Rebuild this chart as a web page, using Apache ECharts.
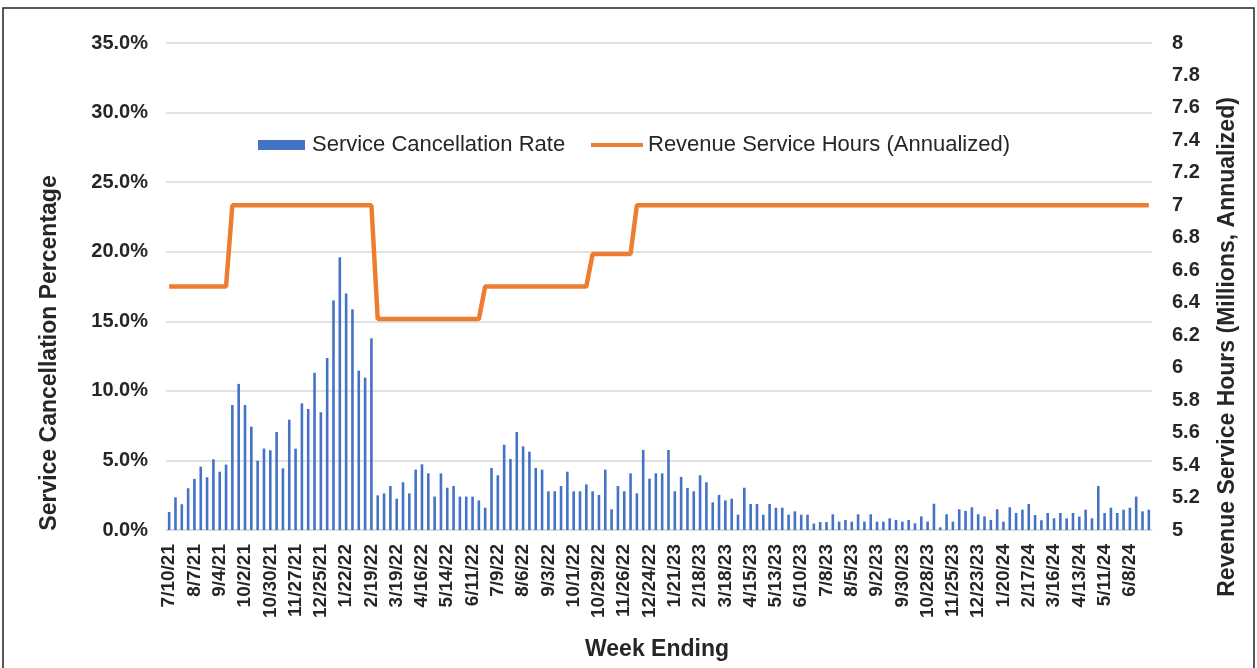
<!DOCTYPE html>
<html>
<head>
<meta charset="utf-8">
<script src="https://cdn.jsdelivr.net/npm/echarts@6/dist/echarts.min.js"></script>
<style>
  html, body { margin: 0; padding: 0; background: #fff; }
  #chart { width: 1257px; height: 668px; }
</style>
</head>
<body>
<div id="chart"></div>
<script>
// week ending dates
const weeks = [
  '7/10/21', '7/17/21', '7/24/21', '7/31/21', '8/7/21', '8/14/21', '8/21/21', '8/28/21', '9/4/21', '9/11/21',
  '9/18/21', '9/25/21', '10/2/21', '10/9/21', '10/16/21', '10/23/21', '10/30/21', '11/6/21', '11/13/21', '11/20/21',
  '11/27/21', '12/4/21', '12/11/21', '12/18/21', '12/25/21',
  '1/1/22', '1/8/22', '1/15/22', '1/22/22', '1/29/22', '2/5/22', '2/12/22', '2/19/22', '2/26/22', '3/5/22',
  '3/12/22', '3/19/22', '3/26/22', '4/2/22', '4/9/22', '4/16/22', '4/23/22', '4/30/22', '5/7/22', '5/14/22',
  '5/21/22', '5/28/22', '6/4/22', '6/11/22', '6/18/22', '6/25/22', '7/2/22', '7/9/22', '7/16/22', '7/23/22',
  '7/30/22', '8/6/22', '8/13/22', '8/20/22', '8/27/22', '9/3/22', '9/10/22', '9/17/22', '9/24/22', '10/1/22',
  '10/8/22', '10/15/22', '10/22/22', '10/29/22', '11/5/22', '11/12/22', '11/19/22', '11/26/22', '12/3/22', '12/10/22',
  '12/17/22', '12/24/22', '12/31/22',
  '1/7/23', '1/14/23', '1/21/23', '1/28/23', '2/4/23', '2/11/23', '2/18/23', '2/25/23', '3/4/23', '3/11/23',
  '3/18/23', '3/25/23', '4/1/23', '4/8/23', '4/15/23', '4/22/23', '4/29/23', '5/6/23', '5/13/23', '5/20/23',
  '5/27/23', '6/3/23', '6/10/23', '6/17/23', '6/24/23', '7/1/23', '7/8/23', '7/15/23', '7/22/23', '7/29/23',
  '8/5/23', '8/12/23', '8/19/23', '8/26/23', '9/2/23', '9/9/23', '9/16/23', '9/23/23', '9/30/23', '10/7/23',
  '10/14/23', '10/21/23', '10/28/23', '11/4/23', '11/11/23', '11/18/23', '11/25/23', '12/2/23', '12/9/23', '12/16/23',
  '12/23/23', '12/30/23',
  '1/6/24', '1/13/24', '1/20/24', '1/27/24', '2/3/24', '2/10/24', '2/17/24', '2/24/24', '3/2/24', '3/9/24',
  '3/16/24', '3/23/24', '3/30/24', '4/6/24', '4/13/24', '4/20/24', '4/27/24', '5/4/24', '5/11/24', '5/18/24',
  '5/25/24', '6/1/24', '6/8/24', '6/15/24', '6/22/24', '6/29/24'
];

// service cancellation rate (%)
const cancelRate = [
  1.3, 2.35, 1.85, 3.0, 3.67, 4.55, 3.79, 5.08, 4.19, 4.7,
  8.98, 10.5, 8.98, 7.43, 4.98, 5.85, 5.73, 7.04, 4.43, 7.93,
  5.85, 9.1, 8.7, 11.3, 8.46, 12.36, 16.5, 19.6, 17.0, 15.86,
  11.45, 10.95, 13.78, 2.49, 2.63, 3.16, 2.25, 3.43, 2.63, 4.34,
  4.72, 4.07, 2.4, 4.07, 3.04, 3.16, 2.4, 2.4, 2.4, 2.13,
  1.6, 4.46, 3.93, 6.13, 5.1, 7.04, 6.01, 5.63, 4.46, 4.34,
  2.78, 2.78, 3.16, 4.19, 2.78, 2.78, 3.28, 2.78, 2.52, 4.34,
  1.49, 3.16, 2.78, 4.07, 2.63, 5.75, 3.69, 4.07, 4.07, 5.75,
  2.78, 3.81, 3.02, 2.78, 3.93, 3.43, 1.99, 2.52, 2.13, 2.25,
  1.1, 3.04, 1.87, 1.87, 1.1, 1.87, 1.6, 1.6, 1.1, 1.34,
  1.1, 1.1, 0.46, 0.57, 0.57, 1.13, 0.6, 0.72, 0.6, 1.13,
  0.6, 1.13, 0.6, 0.6, 0.84, 0.72, 0.6, 0.72, 0.48, 0.98,
  0.6, 1.89, 0.19, 1.13, 0.6, 1.49, 1.37, 1.63, 1.13, 0.98,
  0.72, 1.49, 0.6, 1.63, 1.22, 1.46, 1.87, 1.08, 0.7, 1.22,
  0.84, 1.22, 0.84, 1.22, 0.96, 1.46, 0.84, 3.16, 1.22, 1.6,
  1.22, 1.46, 1.6, 2.4, 1.34, 1.46
];

// revenue service hours, millions annualized
const serviceHours = [
  6.5, 6.5, 6.5, 6.5, 6.5, 6.5, 6.5, 6.5, 6.5, 6.5,
  7, 7, 7, 7, 7, 7, 7, 7, 7, 7,
  7, 7, 7, 7, 7, 7, 7, 7, 7, 7,
  7, 7, 7, 6.3, 6.3, 6.3, 6.3, 6.3, 6.3, 6.3,
  6.3, 6.3, 6.3, 6.3, 6.3, 6.3, 6.3, 6.3, 6.3, 6.3,
  6.5, 6.5, 6.5, 6.5, 6.5, 6.5, 6.5, 6.5, 6.5, 6.5,
  6.5, 6.5, 6.5, 6.5, 6.5, 6.5, 6.5, 6.7, 6.7, 6.7,
  6.7, 6.7, 6.7, 6.7, 7, 7, 7, 7, 7, 7,
  7, 7, 7, 7, 7, 7, 7, 7, 7, 7,
  7, 7, 7, 7, 7, 7, 7, 7, 7, 7,
  7, 7, 7, 7, 7, 7, 7, 7, 7, 7,
  7, 7, 7, 7, 7, 7, 7, 7, 7, 7,
  7, 7, 7, 7, 7, 7, 7, 7, 7, 7,
  7, 7, 7, 7, 7, 7, 7, 7, 7, 7,
  7, 7, 7, 7, 7, 7, 7, 7, 7, 7,
  7, 7, 7, 7, 7, 7
];

const FONT = "'Liberation Sans', Arial, sans-serif";
const TXT = '#262626';

let chart = echarts.init(document.getElementById('chart'));

let option = {
  animation: false,
  textStyle: { fontFamily: FONT },
  grid: { left: 166, right: 105, top: 43, bottom: 138 },
  legend: [
    {
      data: ['Service Cancellation Rate'],
      left: 253, top: 129,
      icon: 'rect', itemWidth: 47, itemHeight: 10, itemGap: 0,
      textStyle: { fontFamily: FONT, fontSize: 22, color: TXT, padding: [0, 0, 0, 2] }
    },
    {
      data: ['Revenue Service Hours (Annualized)'],
      left: 586, top: 129,
      icon: 'rect', itemWidth: 52, itemHeight: 4, itemGap: 0,
      textStyle: { fontFamily: FONT, fontSize: 22, color: TXT, padding: [0, 0, 0, 0] }
    }
  ],
  xAxis: {
    type: 'category',
    data: weeks,
    boundaryGap: true,
    axisLine: { lineStyle: { color: '#d9d9d9', width: 1.5 } },
    axisTick: { show: false },
    axisLabel: {
      interval: 3,
      rotate: 90,
      margin: 14,
      fontFamily: FONT,
      fontWeight: 'bold',
      fontSize: 19,
      color: TXT
    }
  },
  yAxis: [
    {
      type: 'value',
      min: 0, max: 35, interval: 5,
      axisLine: { show: false },
      axisTick: { show: false },
      splitLine: { lineStyle: { color: '#d9d9d9', width: 1.5 } },
      axisLabel: {
        margin: 18,
        fontFamily: FONT, fontWeight: 'bold', fontSize: 20, color: TXT,
        formatter: v => v.toFixed(1) + '%'
      }
    },
    {
      type: 'value',
      min: 5, max: 8, interval: 0.2,
      position: 'right',
      axisLine: { show: false },
      axisTick: { show: false },
      splitLine: { show: false },
      axisLabel: {
        margin: 20,
        fontFamily: FONT, fontWeight: 'bold', fontSize: 20, color: TXT,
        formatter: v => String(parseFloat(v.toFixed(1)))
      }
    }
  ],
  series: [
    {
      name: 'Service Cancellation Rate',
      type: 'bar',
      yAxisIndex: 0,
      data: cancelRate,
      barWidth: 2.6,
      itemStyle: { color: '#4472C4' }
    },
    {
      name: 'Revenue Service Hours (Annualized)',
      type: 'line',
      yAxisIndex: 1,
      data: serviceHours,
      symbol: 'none',
      lineStyle: { color: '#ED7D31', width: 4.5 },
      itemStyle: { color: '#ED7D31' }
    }
  ],
  graphic: [
    {
      type: 'rect',
      shape: { x: 3, y: 8, width: 1251, height: 700 },
      style: { fill: null, stroke: '#222', lineWidth: 1.5 },
      silent: true
    },
    {
      type: 'text',
      x: 50, y: 353, rotation: Math.PI / 2,
      style: {
        text: 'Service Cancellation Percentage',
        font: "bold 23px 'Liberation Sans', Arial, sans-serif",
        fill: TXT, align: 'center', verticalAlign: 'middle'
      }
    },
    {
      type: 'text',
      x: 1228, y: 347, rotation: Math.PI / 2,
      style: {
        text: 'Revenue Service Hours (Millions, Annualized)',
        font: "bold 23px 'Liberation Sans', Arial, sans-serif",
        fill: TXT, align: 'center', verticalAlign: 'middle'
      }
    },
    {
      type: 'text',
      x: 657, y: 650,
      style: {
        text: 'Week Ending',
        font: "bold 23px 'Liberation Sans', Arial, sans-serif",
        fill: TXT, align: 'center', verticalAlign: 'middle'
      }
    }
  ]
};

chart.setOption(option);
</script>
</body>
</html>
